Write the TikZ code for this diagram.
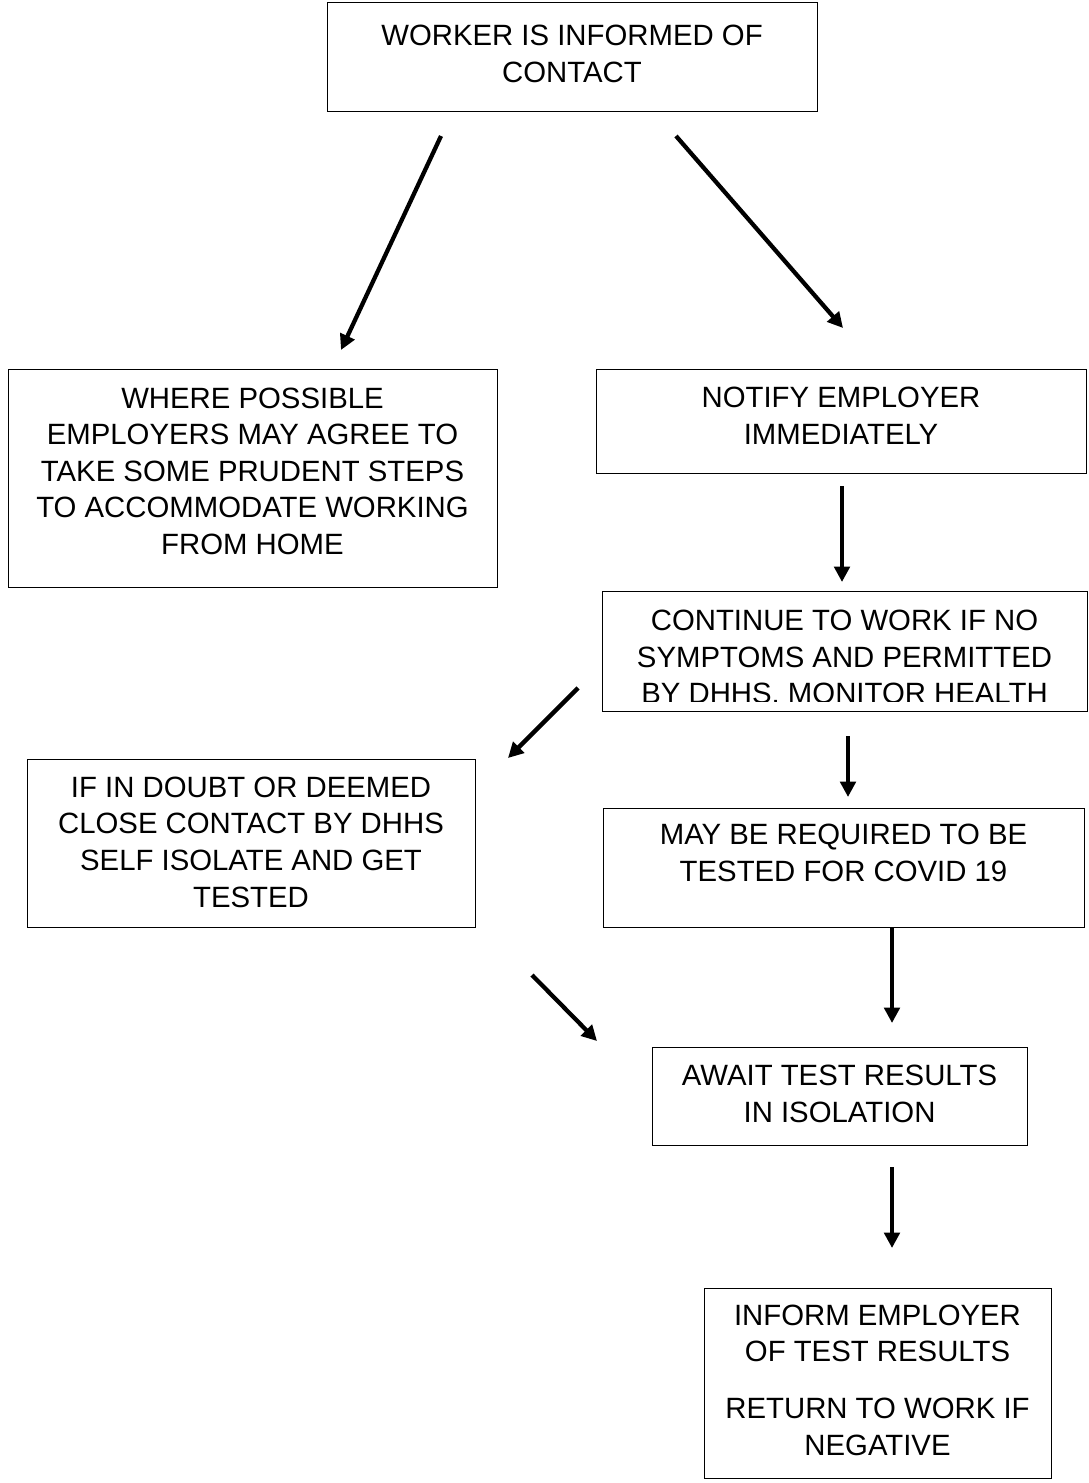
\documentclass[tikz,border=0pt]{standalone}
\usepackage{fontspec}
\setmainfont{Liberation Sans}
\usetikzlibrary{arrows.meta}

\begin{document}
\begin{tikzpicture}[x=0.75pt, y=-0.75pt,
    every node/.style={draw, line width=0.75pt, inner sep=0pt, align=center,
        font=\fontsize{22}{27.45}\selectfont},
    arr/.style={line width=3.2pt, -{Triangle[width=11.5pt, length=11.5pt]}}]
    \useasboundingbox (0,0) rectangle (1088,1483);

    \node (1) at (572,57.5) [minimum width=367.5pt, minimum height=81.75pt] {WORKER IS INFORMED OF\\CONTACT\rule[-6pt]{0pt}{0pt}};
    \node (2) at (252.5,478.5) [minimum width=366.75pt, minimum height=162.75pt] {WHERE POSSIBLE\\EMPLOYERS MAY AGREE TO\\TAKE SOME PRUDENT STEPS\\TO ACCOMMODATE WORKING\\FROM HOME\rule[-11.25pt]{0pt}{0pt}};
    \node (3) at (841,421.5) [minimum width=367.5pt, minimum height=77.25pt] {NOTIFY EMPLOYER\\IMMEDIATELY\rule[-8.25pt]{0pt}{0pt}};
    \node (4) at (844.5,651) [minimum width=363.75pt, minimum height=90pt] {\rule{0pt}{24.7pt}CONTINUE TO WORK IF NO\\SYMPTOMS AND PERMITTED\\BY DHHS. MONITOR HEALTH};
    % last line of 4 is cut off at the bottom
    \fill[white] (603,701.5) rectangle (1086.4,710.4);
    \node (5) at (251,843) [minimum width=336pt, minimum height=126pt] {IF IN DOUBT OR DEEMED\\CLOSE CONTACT BY DHHS\\SELF ISOLATE AND GET\\TESTED\rule[-1.5pt]{0pt}{0pt}};
    \node (6) at (843.5,867.5) [minimum width=360.75pt, minimum height=89.25pt] {MAY BE REQUIRED TO BE\\TESTED FOR COVID 19\rule[-22pt]{0pt}{0pt}};
    \node (7) at (839.5,1096) [minimum width=281.25pt, minimum height=73.5pt] {AWAIT TEST RESULTS\\IN ISOLATION\rule[-3.75pt]{0pt}{0pt}};
    \node (8) at (877.5,1383) [minimum width=260.25pt, minimum height=142.5pt] {INFORM EMPLOYER\\OF TEST RESULTS\\[15pt]RETURN TO WORK IF\\NEGATIVE\rule[-4.5pt]{0pt}{0pt}};

    \coordinate (a1) at (441,136);  \coordinate (a2) at (341,350);
    \coordinate (b1) at (676,136);  \coordinate (b2) at (843,328);
    \coordinate (c1) at (842,486);  \coordinate (c2) at (842,582);
    \coordinate (d1) at (578,688);  \coordinate (d2) at (508,758);
    \coordinate (e1) at (848,736);  \coordinate (e2) at (848,797);
    \coordinate (f1) at (892,927);  \coordinate (f2) at (892,1023);
    \coordinate (g1) at (532,975);  \coordinate (g2) at (597,1041);
    \coordinate (h1) at (892,1167); \coordinate (h2) at (892,1248);

    \draw[arr] (a1) -- (a2);
    \draw[arr] (b1) -- (b2);
    \draw[arr] (c1) -- (c2);
    \draw[arr] (d1) -- (d2);
    \draw[arr] (e1) -- (e2);
    \draw[arr] (f1) -- (f2);
    \draw[arr] (g1) -- (g2);
    \draw[arr] (h1) -- (h2);
\end{tikzpicture}
\end{document}
